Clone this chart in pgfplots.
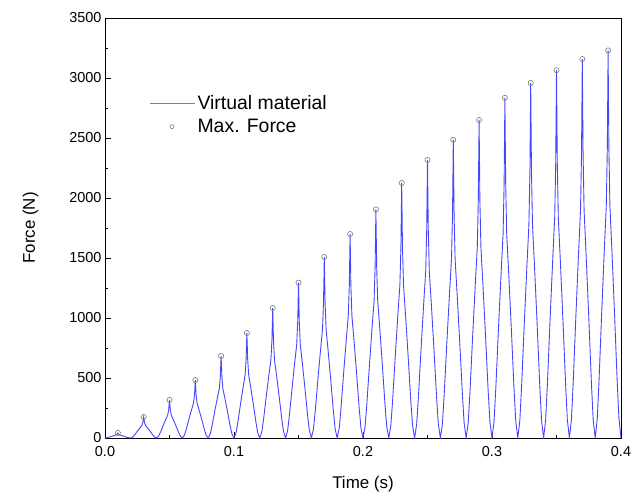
\documentclass[border=0pt]{standalone}
\usepackage{pgfplots}
\pgfplotsset{compat=1.18}
\usepackage{pgfplotstable}
\usepackage{fontspec}
\setmainfont{Liberation Sans}
\definecolor{lineblue}{rgb}{0.27,0.27,1}
\definecolor{legblue}{rgb}{0.45,0.45,1}
\definecolor{mkgray}{rgb}{0.47,0.47,0.47}

\pgfplotstableread{
x y
0.0000 0
0.0016 2
0.0030 6
0.0050 13
0.0070 20
0.0086 25
0.0094 32
0.0100 42
0.0106 32
0.0114 25
0.0130 20
0.0150 13
0.0170 6
0.0184 2
0.0200 0
0.0216 9
0.0230 26
0.0250 56
0.0270 84
0.0286 105
0.0294 131
0.0300 175
0.0306 131
0.0314 105
0.0330 84
0.0350 56
0.0370 26
0.0384 9
0.0400 0
0.0416 16
0.0430 48
0.0450 101
0.0470 152
0.0486 190
0.0494 238
0.0500 317
0.0506 238
0.0514 190
0.0530 152
0.0550 101
0.0570 48
0.0584 16
0.0600 0
0.0616 24
0.0630 72
0.0650 155
0.0670 232
0.0686 290
0.0694 362
0.0700 483
0.0706 362
0.0714 290
0.0730 232
0.0750 155
0.0770 72
0.0784 24
0.0800 0
0.0816 34
0.0830 102
0.0850 219
0.0870 328
0.0886 410
0.0894 512
0.0900 683
0.0906 512
0.0914 410
0.0930 328
0.0950 219
0.0970 102
0.0984 34
0.1000 0
0.1016 44
0.1030 131
0.1050 280
0.1070 420
0.1086 525
0.1094 656
0.1100 875
0.1106 656
0.1114 525
0.1130 420
0.1150 280
0.1170 131
0.1184 44
0.1200 0
0.1216 54
0.1230 162
0.1250 347
0.1270 520
0.1286 650
0.1294 812
0.1300 1083
0.1306 812
0.1314 650
0.1330 520
0.1350 347
0.1370 162
0.1384 54
0.1400 0
0.1416 65
0.1430 194
0.1450 414
0.1470 622
0.1486 777
0.1494 971
0.1500 1295
0.1506 971
0.1514 777
0.1530 622
0.1550 414
0.1570 194
0.1584 65
0.1600 0
0.1616 75
0.1630 226
0.1650 483
0.1670 724
0.1686 905
0.1694 1131
0.1700 1508
0.1706 1131
0.1714 905
0.1730 724
0.1750 483
0.1770 226
0.1784 75
0.1800 0
0.1816 85
0.1830 255
0.1850 544
0.1870 816
0.1886 1020
0.1894 1275
0.1900 1700
0.1906 1275
0.1914 1020
0.1930 816
0.1950 544
0.1970 255
0.1984 85
0.2000 0
0.2016 95
0.2030 286
0.2050 610
0.2070 914
0.2086 1143
0.2094 1429
0.2100 1905
0.2106 1429
0.2114 1143
0.2130 914
0.2150 610
0.2170 286
0.2184 95
0.2200 0
0.2216 106
0.2230 319
0.2250 680
0.2270 1020
0.2286 1275
0.2294 1594
0.2300 2125
0.2306 1594
0.2314 1275
0.2330 1020
0.2350 680
0.2370 319
0.2384 106
0.2400 0
0.2416 116
0.2430 348
0.2450 741
0.2470 1112
0.2486 1390
0.2494 1738
0.2500 2317
0.2506 1738
0.2514 1390
0.2530 1112
0.2550 741
0.2570 348
0.2584 116
0.2600 0
0.2616 124
0.2630 373
0.2650 795
0.2670 1193
0.2686 1491
0.2694 1864
0.2700 2485
0.2706 1864
0.2714 1491
0.2730 1193
0.2750 795
0.2770 373
0.2784 124
0.2800 0
0.2816 133
0.2830 398
0.2850 848
0.2870 1272
0.2886 1590
0.2894 1988
0.2900 2650
0.2906 1988
0.2914 1590
0.2930 1272
0.2950 848
0.2970 398
0.2984 133
0.3000 0
0.3016 142
0.3030 425
0.3050 907
0.3070 1361
0.3086 1701
0.3094 2126
0.3100 2835
0.3106 2126
0.3114 1701
0.3130 1361
0.3150 907
0.3170 425
0.3184 142
0.3200 0
0.3216 148
0.3230 444
0.3250 947
0.3270 1420
0.3286 1775
0.3294 2219
0.3300 2958
0.3306 2219
0.3314 1775
0.3330 1420
0.3350 947
0.3370 444
0.3384 148
0.3400 0
0.3416 153
0.3430 460
0.3450 981
0.3470 1471
0.3486 1839
0.3494 2299
0.3500 3065
0.3506 2299
0.3514 1839
0.3530 1471
0.3550 981
0.3570 460
0.3584 153
0.3600 0
0.3616 158
0.3630 474
0.3650 1011
0.3670 1516
0.3686 1895
0.3694 2369
0.3700 3158
0.3706 2369
0.3714 1895
0.3730 1516
0.3750 1011
0.3770 474
0.3784 158
0.3800 0
0.3816 162
0.3830 485
0.3850 1034
0.3870 1550
0.3886 1938
0.3894 2423
0.3900 3230
0.3906 2423
0.3914 1938
0.3930 1550
0.3950 1034
0.3970 485
0.3984 162
0.4000 0
}\curve

\pgfplotstableread{
x y
0.01 42
0.03 175
0.05 317
0.07 483
0.09 683
0.11 875
0.13 1083
0.15 1295
0.17 1508
0.19 1700
0.21 1905
0.23 2125
0.25 2317
0.27 2485
0.29 2650
0.31 2835
0.33 2958
0.35 3065
0.37 3158
0.39 3230
}\peaks

\begin{document}
\begin{tikzpicture}
\begin{axis}[
  name=ax,
  scale only axis,
  width=516bp, height=420bp,
  xmin=0, xmax=0.4, ymin=0, ymax=3500,
  xtick={0,0.1,0.2,0.3,0.4},
  xticklabels={0.0,0.1,0.2,0.3,0.4},
  ytick={0,500,...,3500},
  minor x tick num=1,
  minor y tick num=1,
  tick align=inside,
  xtick pos=bottom, ytick pos=left,
  major tick length=6bp, minor tick length=3.5bp,
  every tick/.style={black, line width=0.8pt},
  axis line style={line width=0.8pt},
  /pgf/number format/assume math mode=true,
  ticklabel style={font=\fontsize{14.5}{17}\selectfont},
  xticklabel style={yshift=-5bp},
  scaled y ticks=false,
  yticklabel style={/pgf/number format/.cd, fixed, 1000 sep={}},
  xlabel={Time (s)}, ylabel={Force (N)},
  label style={font=\fontsize{17}{20}\selectfont},
  xlabel style={at={(axis description cs:0.5,0)}, anchor=north, yshift=-35bp},
  ylabel style={at={(axis description cs:0,0.5)}, anchor=south, yshift=63bp},
  legend style={draw=none, fill=none, at={(0.08,0.825)}, anchor=north west,
    font=\fontsize{19.5}{23}\selectfont, row sep=4bp,
    /tikz/every even column/.append style={column sep=1bp}},
  legend cell align=left,
]
\addplot[color=lineblue, line width=0.9pt, mark=none,
  legend image code/.code={\draw[color=legblue, line width=1.1pt] (0bp,0bp) -- (45bp,0bp);}]
  table[x=x,y=y] {\curve};
\addlegendentry{Virtual material}
\addplot[only marks, mark=o, mark size=2.6pt, color=mkgray, mark options={color=mkgray, line width=0.6pt, fill=white},
  legend image code/.code={\draw[color=mkgray, line width=0.6pt, fill=white] (22bp,0bp) circle (2pt);}]
  table[x=x,y=y] {\peaks};
\addlegendentry{Max. Force}
\end{axis}
\path ([xshift=-105bp,yshift=-56bp]ax.south west) rectangle ([xshift=17bp,yshift=18bp]ax.north east);
\end{tikzpicture}
\end{document}
